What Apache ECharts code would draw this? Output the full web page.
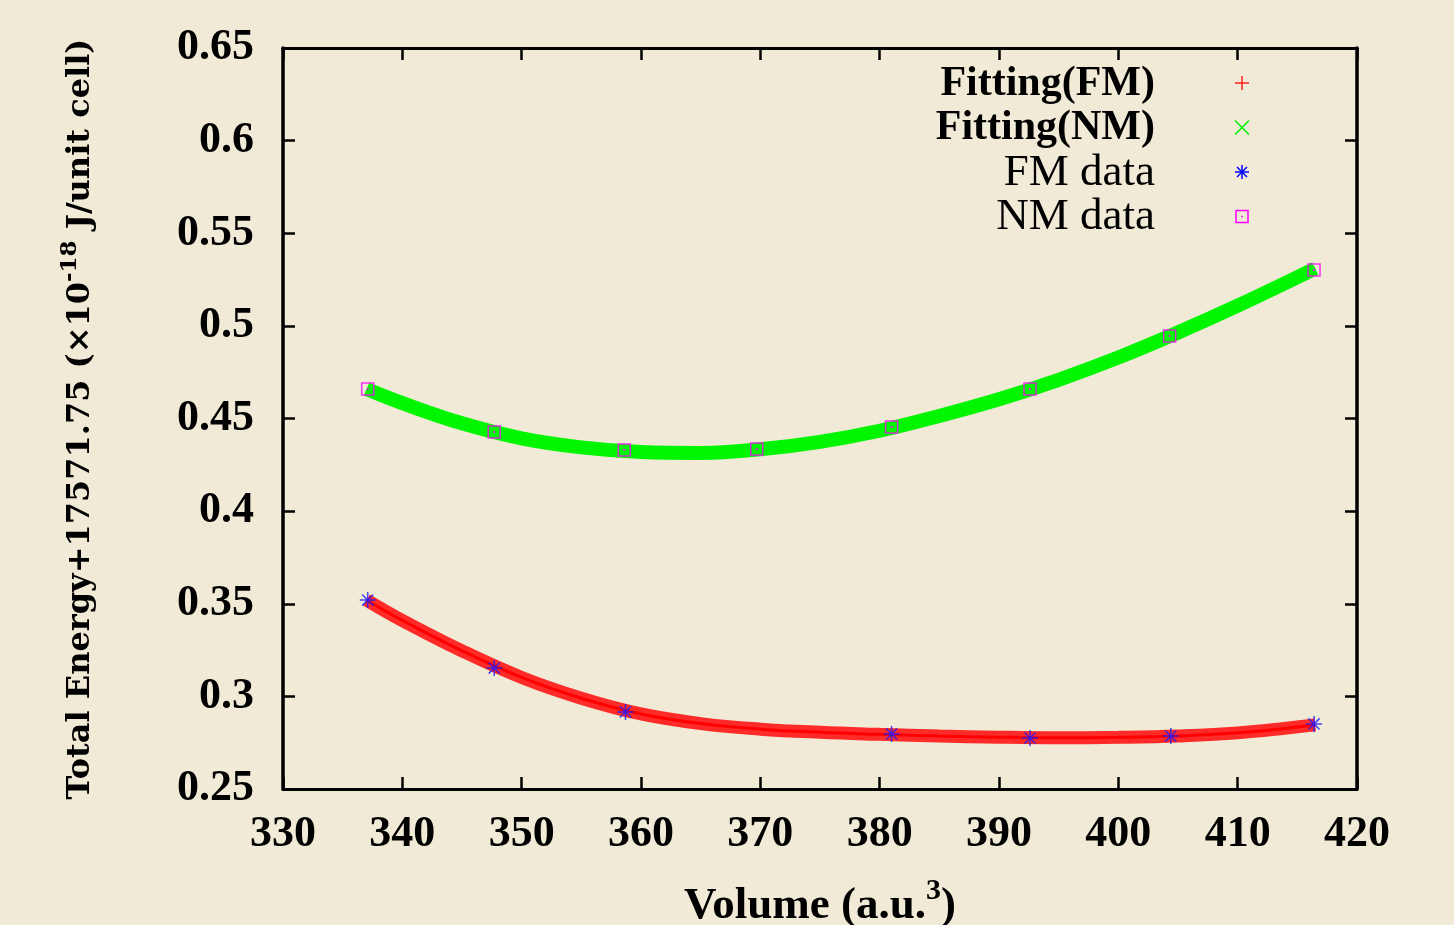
<!DOCTYPE html>
<html>
<head>
<meta charset="utf-8">
<script src="https://cdn.jsdelivr.net/npm/echarts@6/dist/echarts.min.js"></script>
<style>
  html, body { margin: 0; padding: 0; background: #f0ead6; }
  #chart { width: 1454px; height: 925px; }
</style>
</head>
<body>
<div id="chart"></div>
<script>
// fitted curves
const fitVolume = [337, 340, 345, 350, 355, 360, 365, 370, 375, 380, 385, 390, 395, 400, 405, 410, 416.5]
const fitFM = [0.352, 0.341, 0.3246, 0.3102, 0.299, 0.2905, 0.2853, 0.2823, 0.2806, 0.2795, 0.2786, 0.278, 0.2777, 0.2779, 0.2786, 0.2803, 0.2846]
const fitNM = [0.4659, 0.4583, 0.4474, 0.4393, 0.4344, 0.4319, 0.4314, 0.4334, 0.4374, 0.4434, 0.4514, 0.4604, 0.4709, 0.4829, 0.4964, 0.5109, 0.531]

// calculated points
const fmVolume = [337.1, 347.7, 358.7, 381.0, 392.6, 404.4, 416.4]
const fmEnergy = [0.352, 0.3153, 0.2916, 0.2797, 0.2775, 0.2786, 0.2851]
const nmVolume = [337.1, 347.7, 358.6, 369.7, 381.0, 392.6, 404.3, 416.4]
const nmEnergy = [0.4659, 0.4427, 0.433, 0.4335, 0.4454, 0.4659, 0.4945, 0.5302]

const legendNames = ['Fitting(FM)', 'Fitting(NM)', 'FM data', 'NM data']

const pair = (xs, ys) => xs.map((x, i) => [x, ys[i]])

const serif = 'Liberation Serif'
const asterisk = 'path://M10,0V20M0,10H20M3,3L17,17M3,17L17,3'
const boxDot = 'path://M0,0H20V20H0ZM9.5,9.5H10.5V10.5H9.5Z'

const chart = echarts.init(document.getElementById('chart'))

// gnuplot style border: ticks inside on all four sides
const xBase = {
  type: 'value', min: 330, max: 420, interval: 10,
  axisLine: { show: true, onZero: false, lineStyle: { color: '#000', width: 3 } },
  axisTick: { show: true, inside: true, length: 12, lineStyle: { color: '#000', width: 2.5 } },
  splitLine: { show: false }
}
const yBase = {
  type: 'value', min: 0.25, max: 0.65, interval: 0.05,
  axisLine: { show: true, onZero: false, lineStyle: { color: '#000', width: 3.5 } },
  axisTick: { show: true, inside: true, length: 12, lineStyle: { color: '#000', width: 2.5 } },
  splitLine: { show: false }
}

// legend markers, drawn next to right aligned text
function marker(kind, cx, cy) {
  const s = 7
  const line = (x1, y1, x2, y2, color) => ({
    type: 'line', shape: { x1: cx + x1, y1: cy + y1, x2: cx + x2, y2: cy + y2 },
    style: { stroke: color, lineWidth: 1.5 }
  })
  if (kind === 0) return [line(-s, 0, s, 0, '#ff2020'), line(0, -s, 0, s, '#ff2020')]
  if (kind === 1) return [line(-s, -s, s, s, '#00ee00'), line(-s, s, s, -s, '#00ee00')]
  if (kind === 2) return [line(-s, 0, s, 0, '#0000ff'), line(0, -s, 0, s, '#0000ff'),
    line(-5, -5, 5, 5, '#0000ff'), line(-5, 5, 5, -5, '#0000ff')]
  return [{ type: 'rect', shape: { x: cx - 6, y: cy - 6, width: 12, height: 12 },
    style: { fill: 'none', stroke: '#ff00ff', lineWidth: 1.5 } },
    { type: 'rect', shape: { x: cx - 0.75, y: cy - 0.75, width: 1.5, height: 1.5 }, style: { fill: '#cc00cc' } }]
}

const legendGraphics = []
legendNames.forEach((name, i) => {
  const cy = 83 + i * 44.5
  legendGraphics.push({
    type: 'text', x: 1155, y: cy + 1,
    style: {
      text: name, fill: '#000', font: (i < 2 ? 'bold 42px "' : '45px "') + serif + '"',
      textAlign: 'right', textVerticalAlign: 'middle'
    }
  })
  legendGraphics.push(...marker(i, 1242, cy))
})

const option = {
  backgroundColor: '#f0ead6',
  animation: false,
  grid: { left: 283, right: 97, top: 48, bottom: 136 },
  xAxis: [
    Object.assign({}, xBase, {
      position: 'bottom',
      axisLabel: { show: true, margin: 24, color: '#000', fontFamily: serif, fontWeight: 'bold', fontSize: 44 }
    }),
    Object.assign({}, xBase, { position: 'top', axisLabel: { show: false } })
  ],
  yAxis: [
    Object.assign({}, yBase, {
      position: 'left',
      axisLabel: { show: true, margin: 29, color: '#000', fontFamily: serif, fontWeight: 'bold', fontSize: 44 }
    }),
    Object.assign({}, yBase, { position: 'right', axisLabel: { show: false } })
  ],
  graphic: [
    {
      type: 'text', x: 81, y: 419, rotation: Math.PI / 2,
      style: {
        text: '{a|Total Energy+17571.75 (×10}{s|-18}{a| J/unit cell)}',
        textAlign: 'center', textVerticalAlign: 'middle', fill: '#000',
        rich: {
          a: { fontFamily: 'DejaVu Serif', fontWeight: 'bold', fontSize: 32, fill: '#000' },
          s: { fontFamily: 'DejaVu Serif', fontWeight: 'bold', fontSize: 23, fill: '#000', padding: [0, 0, 22, 0] }
        }
      }
    },
    {
      type: 'text', x: 820, y: 906,
      style: {
        text: '{a|Volume (a.u.}{s|3}{a|)}',
        textAlign: 'center', textVerticalAlign: 'middle', fill: '#000',
        rich: {
          a: { fontFamily: serif, fontWeight: 'bold', fontSize: 45, fill: '#000' },
          s: { fontFamily: serif, fontWeight: 'bold', fontSize: 30, fill: '#000', padding: [0, 0, 30, 0] }
        }
      }
    },
    ...legendGraphics
  ],
  series: [
    {
      name: legendNames[0], type: 'line', smooth: 0.4, symbol: 'none',
      data: pair(fitVolume, fitFM),
      lineStyle: { color: '#ff1a1a', width: 13, opacity: 0.92 }, z: 2
    },
    {
      name: legendNames[0], type: 'line', smooth: 0.4, symbol: 'none',
      data: pair(fitVolume, fitFM),
      lineStyle: { color: '#ff0000', width: 3 }, z: 2
    },
    {
      name: legendNames[1], type: 'line', smooth: 0.4, symbol: 'none',
      data: pair(fitVolume, fitNM),
      lineStyle: { color: '#00f500', width: 14 }, z: 2
    },
    {
      name: legendNames[2], type: 'scatter', symbol: asterisk, symbolSize: 16,
      data: pair(fmVolume, fmEnergy),
      itemStyle: { color: 'none', borderColor: '#1a1aff', borderWidth: 1.5 }, z: 3
    },
    {
      name: legendNames[3], type: 'scatter', symbol: boxDot, symbolSize: 12,
      data: pair(nmVolume, nmEnergy),
      itemStyle: { color: 'none', borderColor: '#ff00ff', borderWidth: 1.5, opacity: 0.8 }, z: 3
    }
  ]
}

chart.setOption(option)
</script>
</body>
</html>
